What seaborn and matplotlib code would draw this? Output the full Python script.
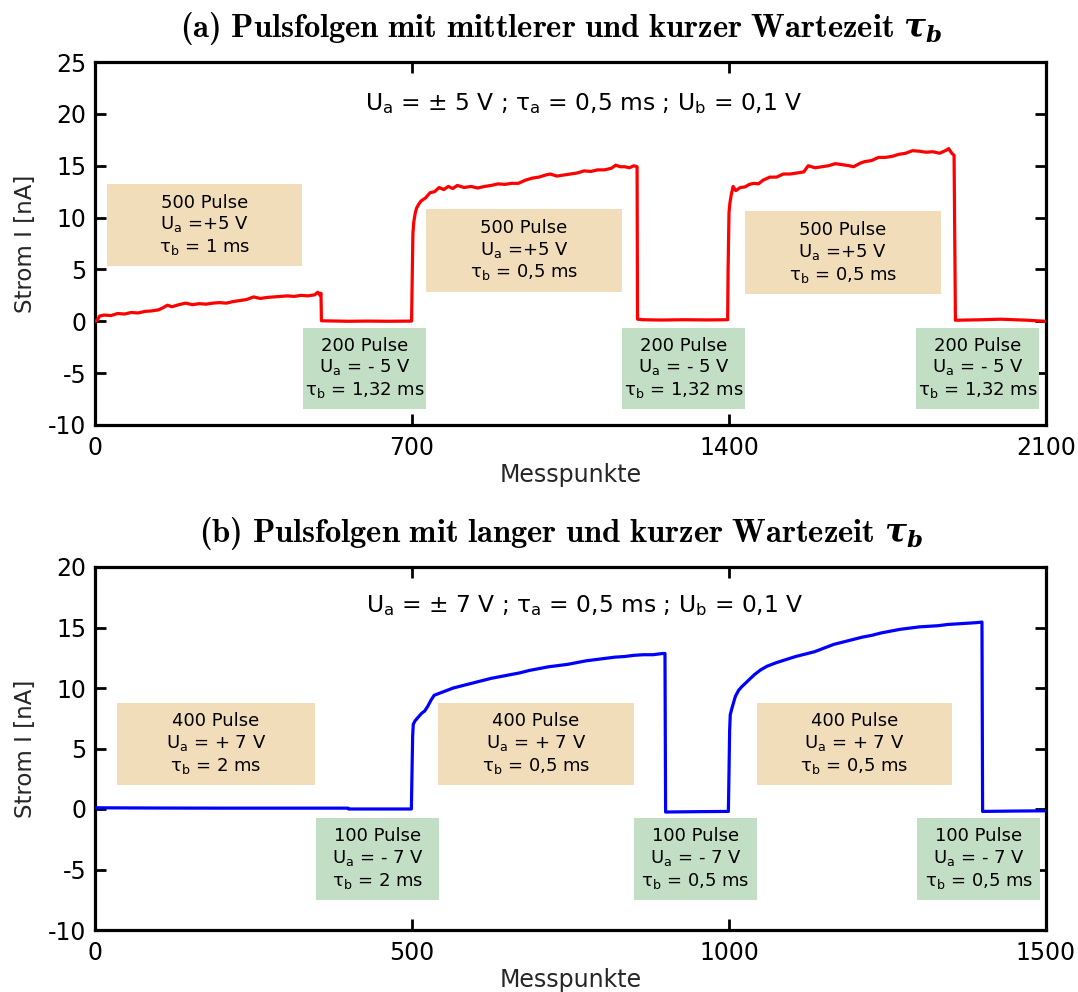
import matplotlib
matplotlib.use("Agg")
import matplotlib.pyplot as plt
from matplotlib.patches import Rectangle
import pandas as pd
import seaborn as sns

# ---------------------------------------------------------------------------
# (a) pulse trains ±5 V: measurement index and current in nA
x_a = [0, 5, 10, 20, 35, 50, 65, 80, 95, 110, 125, 140, 150, 160, 170, 185, 200,
       215, 230, 245, 260, 275, 290, 305, 320, 335, 350, 365, 380, 395, 410, 425,
       440, 455, 470, 485, 492, 497, 499,
       500, 520, 560, 600, 650, 699,
       700, 701, 702, 704, 707, 710, 715, 720, 730, 740, 750, 760, 770, 780, 790,
       800, 815, 830, 845, 860, 875, 890, 905, 920, 935, 950, 965, 980, 995, 1005,
       1020, 1035, 1050, 1065, 1080, 1095, 1110, 1125, 1140, 1150, 1160, 1170,
       1180, 1190, 1197,
       1198, 1210, 1250, 1300, 1350, 1397,
       1398, 1400, 1402, 1405, 1409, 1415, 1425, 1435, 1445, 1455, 1465, 1475,
       1490, 1505, 1520, 1535, 1550, 1565, 1575, 1590, 1605, 1620, 1635, 1650,
       1665, 1675, 1690, 1700, 1715, 1730, 1745, 1760, 1775, 1790, 1805, 1820,
       1835, 1850, 1865, 1880, 1885, 1892, 1897,
       1900, 1930, 1960, 2000, 2030, 2060, 2080, 2099]
i_a = [0.0, 0.1, 0.5, 0.6, 0.55, 0.75, 0.7, 0.85, 0.8, 0.95, 1.0, 1.1, 1.3, 1.55,
       1.4, 1.6, 1.75, 1.6, 1.7, 1.65, 1.75, 1.8, 1.75, 1.9, 2.0, 2.1, 2.35, 2.2,
       2.3, 2.35, 2.4, 2.45, 2.4, 2.5, 2.45, 2.55, 2.8, 2.5, 2.7,
       0.05, 0.03, 0.0, 0.02, 0.0, 0.02,
       3.0, 6.5, 8.5, 9.6, 10.4, 10.9, 11.3, 11.6, 11.9, 12.4, 12.5, 12.9, 12.7,
       13.0, 12.8, 13.1, 12.9, 13.0, 12.85, 13.0, 13.1, 13.25, 13.2, 13.3, 13.3,
       13.6, 13.8, 13.9, 14.1, 14.2, 14.0, 14.1, 14.2, 14.3, 14.5, 14.45, 14.6,
       14.6, 14.75, 15.05, 14.9, 14.9, 14.8, 15.0, 14.9,
       0.2, 0.15, 0.12, 0.15, 0.13, 0.15,
       5.0, 10.5, 11.4, 12.2, 13.0, 12.6, 12.9, 12.95, 13.2, 13.3, 13.25, 13.6,
       13.9, 13.9, 14.2, 14.2, 14.3, 14.4, 15.0, 14.8, 14.9, 15.0, 15.2, 15.1,
       15.0, 14.9, 15.25, 15.4, 15.5, 15.8, 15.8, 15.9, 16.1, 16.2, 16.45, 16.4,
       16.3, 16.35, 16.2, 16.5, 16.65, 16.2, 16.0,
       0.1, 0.12, 0.15, 0.2, 0.15, 0.1, 0.05, 0.0]

# (b) pulse trains ±7 V
x_b = [0, 100, 200, 300, 399,
       400, 450, 499,
       500, 501, 502, 505, 510, 515, 520, 525, 530, 535, 545, 555, 565, 580, 595,
       610, 625, 640, 655, 670, 685, 700, 715, 730, 745, 760, 775, 790, 805, 820,
       835, 850, 865, 880, 895, 899,
       900, 950, 999,
       1000, 1001, 1002, 1005, 1010, 1015, 1020, 1030, 1040, 1050, 1060, 1075,
       1090, 1105, 1120, 1135, 1150, 1165, 1180, 1195, 1210, 1225, 1240, 1255,
       1270, 1285, 1300, 1315, 1330, 1345, 1360, 1375, 1390, 1399,
       1400, 1450, 1499]
i_b = [0.1, 0.08, 0.07, 0.07, 0.07,
       0.0, 0.0, 0.0,
       3.0, 6.0, 7.0, 7.3, 7.6, 7.9, 8.1, 8.5, 9.0, 9.4, 9.6, 9.8, 10.0, 10.2,
       10.4, 10.6, 10.8, 10.95, 11.1, 11.25, 11.45, 11.6, 11.75, 11.85, 11.95,
       12.1, 12.25, 12.35, 12.45, 12.55, 12.6, 12.7, 12.75, 12.75, 12.85, 12.85,
       -0.25, -0.22, -0.2,
       3.0, 6.5, 7.8, 8.4, 9.3, 9.8, 10.1, 10.6, 11.1, 11.5, 11.8, 12.1, 12.35,
       12.6, 12.8, 13.0, 13.3, 13.6, 13.8, 14.0, 14.2, 14.35, 14.55, 14.7, 14.85,
       14.95, 15.05, 15.1, 15.15, 15.25, 15.3, 15.35, 15.4, 15.45,
       -0.2, -0.17, -0.15]

xticks_a = [0, 700, 1400, 2100]
yticks_a = [-10, -5, 0, 5, 10, 15, 20, 25]
xticks_b = [0, 500, 1000, 1500]
yticks_b = [-10, -5, 0, 5, 10, 15, 20]

title_a = r"$\mathbf{(a)\ Pulsfolgen\ mit\ mittlerer\ und\ kurzer\ Wartezeit}\ \tau_b$"
title_b = r"$\mathbf{(b)\ Pulsfolgen\ mit\ langer\ und\ kurzer\ Wartezeit}\ \tau_b$"
header_a = r"$U_a$ = ± 5 V ; $\tau_a$ = 0,5 ms ; $U_b$ = 0,1 V"
header_b = r"$U_a$ = ± 7 V ; $\tau_a$ = 0,5 ms ; $U_b$ = 0,1 V"

pos_labels_a = ["500 Pulse\n$U_a$ =+5 V\n$\\tau_b$ = 1 ms",
                "500 Pulse\n$U_a$ =+5 V\n$\\tau_b$ = 0,5 ms",
                "500 Pulse\n$U_a$ =+5 V\n$\\tau_b$ = 0,5 ms"]
neg_labels_a = ["200 Pulse\n$U_a$ = - 5 V\n$\\tau_b$ = 1,32 ms"] * 3
pos_labels_b = ["400 Pulse\n$U_a$ = + 7 V\n$\\tau_b$ = 2 ms",
                "400 Pulse\n$U_a$ = + 7 V\n$\\tau_b$ = 0,5 ms",
                "400 Pulse\n$U_a$ = + 7 V\n$\\tau_b$ = 0,5 ms"]
neg_labels_b = ["100 Pulse\n$U_a$ = - 7 V\n$\\tau_b$ = 2 ms",
                "100 Pulse\n$U_a$ = - 7 V\n$\\tau_b$ = 0,5 ms",
                "100 Pulse\n$U_a$ = - 7 V\n$\\tau_b$ = 0,5 ms"]

# ---------------------------------------------------------------------------
sns.set_theme(style="ticks")
plt.rcParams.update({
    "font.family": ["DejaVu Sans"],
    "mathtext.fontset": "dejavusans",
    "mathtext.default": "regular",
    # serif bold set used for the panel titles
    "mathtext.rm": "cmr10",
    "mathtext.it": "cmmi10",
    "mathtext.bf": "cmb10",
    "axes.unicode_minus": False,
    "axes.linewidth": 2.3,
    "axes.edgecolor": "black",
    "xtick.color": "black",
    "ytick.color": "black",
    "text.color": "black",
})

TAN = "#F2DDBA"
GREEN = "#C2DFC6"

fig = plt.figure(figsize=(10.78, 9.92), dpi=100)
ax_a = fig.add_axes([95 / 1078, 1 - 425 / 992, 951 / 1078, 363 / 992])
ax_b = fig.add_axes([95 / 1078, 1 - 930 / 992, 951 / 1078, 363 / 992])


def style_axes(ax, xlim, ylim, xticks, yticks, title):
    ax.set_xlim(*xlim)
    ax.set_ylim(*ylim)
    ax.set_xticks(xticks)
    ax.set_yticks(yticks)
    ax.tick_params(direction="in", length=8, width=2, labelsize=17,
                   top=True, right=True, pad=8)
    ax.tick_params(axis="y", pad=6)
    ax.set_xlabel("Messpunkte", fontsize=17, labelpad=2)
    ax.set_ylabel("Strom I [nA]", fontsize=16.5, labelpad=8)
    # the tau symbol falls back to the title's own (bold italic serif) font
    ax.set_title(title, fontsize=23.5, pad=18, x=0.49, math_fontfamily="custom",
                 fontfamily="DejaVu Serif", fontweight="bold", fontstyle="italic")
    for s in ax.spines.values():
        s.set_linewidth(2.3)
        s.set_visible(True)


def add_boxes(ax, boxes, labels, color):
    for (x0, x1, y0, y1), text in zip(boxes, labels):
        ax.add_patch(Rectangle((x0, y0), x1 - x0, y1 - y0, facecolor=color,
                               edgecolor="none", zorder=1))
        ax.text((x0 + x1) / 2, (y0 + y1) / 2, text, ha="center", va="center",
                fontsize=13, linespacing=1.18, zorder=2, multialignment="center")


# (a)
df_a = pd.DataFrame({"Messpunkte": x_a, "Strom": i_a})
sns.lineplot(data=df_a, x="Messpunkte", y="Strom", ax=ax_a, color="#ff0000",
             lw=2.3, sort=False, estimator=None, zorder=3)
style_axes(ax_a, (0, 2100), (-10, 25), xticks_a, yticks_a, title_a)
add_boxes(ax_a, [(27, 457, 5.3, 13.2), (731, 1164, 2.8, 10.8), (1435, 1868, 2.6, 10.6)],
          pos_labels_a, TAN)
add_boxes(ax_a, [(459, 731, -8.5, -0.6), (1164, 1435, -8.5, -0.6), (1813, 2085, -8.5, -0.6)],
          neg_labels_a, GREEN)
ax_a.text(1080, 21, header_a, ha="center", va="center", fontsize=16.8)

# (b)
df_b = pd.DataFrame({"Messpunkte": x_b, "Strom": i_b})
sns.lineplot(data=df_b, x="Messpunkte", y="Strom", ax=ax_b, color="#0000ff",
             lw=2.3, sort=False, estimator=None, zorder=3)
style_axes(ax_b, (0, 1500), (-10, 20), xticks_b, yticks_b, title_b)
add_boxes(ax_b, [(35, 347, 2.0, 8.76), (541, 850, 2.0, 8.76), (1044, 1352, 2.0, 8.76)],
          pos_labels_b, TAN)
add_boxes(ax_b, [(349, 543, -7.5, -0.74), (850, 1044, -7.5, -0.74), (1297, 1491, -7.5, -0.74)],
          neg_labels_b, GREEN)
ax_b.text(772, 16.8, header_b, ha="center", va="center", fontsize=16.8)

fig.savefig("out.png", dpi=100)
